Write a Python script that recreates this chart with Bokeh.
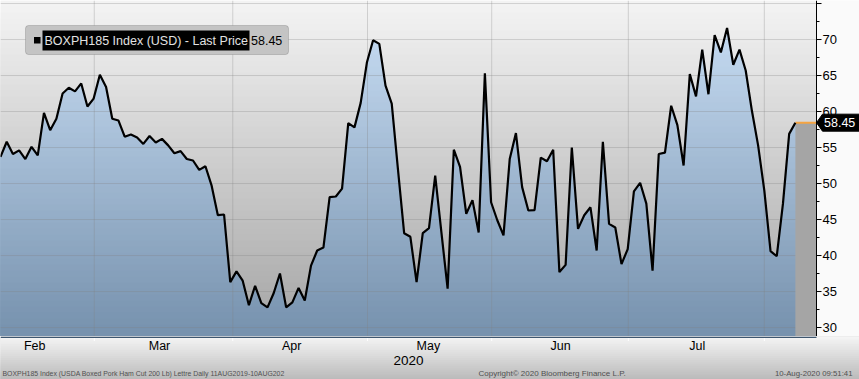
import numpy as np
from bokeh.plotting import figure
from bokeh.layouts import column
from bokeh.models import Range1d, Label, BoxAnnotation
from bokeh.core.properties import value
from bokeh.embed import file_html
from bokeh.resources import INLINE

# ---------------- data ----------------
prices = [53.7, 55.8, 54.1, 54.6, 53.4, 55.1, 53.9, 59.8, 57.4, 59.0,
          62.5, 63.3, 62.8, 63.9, 60.7, 61.8, 65.1, 63.4, 59.0, 58.75,
          56.5, 56.8, 56.4, 55.5, 56.6, 55.7, 56.2, 55.3, 54.2, 54.5,
          53.4, 53.2, 51.9, 52.4, 49.7, 45.6, 45.7, 36.3, 37.8, 36.5,
          33.1, 35.8, 33.4, 32.8, 34.8, 37.5, 32.8, 33.5, 35.5, 33.75,
          38.6, 40.7, 41.1, 48.1, 48.2, 49.3, 58.4, 57.8, 61.2, 66.8,
          69.9, 69.4, 63.6, 61.1, 52.0, 43.1, 42.6, 36.3, 43.1, 43.8,
          51.1, 43.2, 35.4, 54.7, 52.3, 45.8, 47.7, 43.2, 65.3, 47.4,
          44.9, 42.8, 53.4, 57.0, 49.5, 46.25, 46.3, 53.6, 53.1, 54.7,
          37.7, 38.7, 55.0, 43.7, 45.6, 46.7, 40.7, 55.8, 44.4, 43.9,
          38.8, 40.9, 48.9, 50.1, 47.2, 37.9, 54.1, 54.3, 60.8, 58.1,
          52.5, 65.2, 62.1, 68.6, 62.4, 70.6, 68.2, 71.6, 66.5, 68.6,
          65.7, 60.1, 55.3, 49.0, 40.6, 39.9, 47.2, 56.9, 58.45]
last_price = 58.45
last_price_text = "58.45"
months = ["Feb", "Mar", "Apr", "May", "Jun", "Jul"]
month_label_pos = [5.5, 25.6, 46.9, 68.9, 90.2, 112.2]
month_bounds = [15.1, 37.4, 59.1, 79.1, 101.1, 123.0]
year_label = "2020"
y_ticks = [30, 35, 40, 45, 50, 55, 60, 65, 70, 75]
y_tick_labels = ["30", "35", "40", "45", "50", "55", "60", "65", "70", ""]
y_minor = [32.5, 37.5, 42.5, 47.5, 52.5, 57.5, 62.5, 67.5, 72.5]
series_name = "BOXPH185 Index (USD) - Last Price"
footer_left = "BOXPH185 Index (USDA Boxed Pork Ham Cut 200 Lb) Lettre  Daily 11AUG2019-10AUG202"
footer_mid = "Copyright\u00a9 2020 Bloomberg Finance L.P."
footer_right = "10-Aug-2020 09:51:41"

# ---------------- layout constants ----------------
W, FRAME_H, FOOT_H = 859, 336, 43
PLOT_W = 816                      # width of the price area; the right 43 px hold the axis
PX_PER_IDX = 6.21
PX_PER_UNIT = 7.2
X_END = PLOT_W / PX_PER_IDX       # right edge of the price area, in index units
X_MAX = W / PX_PER_IDX
Y_TOP = 75.42
Y_BOT = Y_TOP - FRAME_H / PX_PER_UNIT
FONT = "Liberation Sans"


def px_x(px):
    return px / PX_PER_IDX


def px_y(py):
    return Y_TOP - py / PX_PER_UNIT


def lerp_color(c0, c1, t):
    r = [int(round(a + (b - a) * t)) for a, b in zip(c0, c1)]
    return "#%02x%02x%02x" % tuple(r)


def clip_top(xs, ys, cap):
    ox, oy = [xs[0]], [min(ys[0], cap)]
    for i in range(1, len(xs)):
        x0, y0, x1, y1 = xs[i - 1], ys[i - 1], xs[i], ys[i]
        if (y0 - cap) * (y1 - cap) < 0:
            t = (cap - y0) / (y1 - y0)
            ox.append(x0 + t * (x1 - x0))
            oy.append(cap)
        ox.append(x1)
        oy.append(min(y1, cap))
    return ox, oy


idx = list(range(len(prices)))
last_idx = idx[-1]

# ================= main chart =================
p = figure(width=W, height=FRAME_H, x_range=Range1d(0, X_MAX), y_range=Range1d(Y_BOT, Y_TOP),
           output_backend="svg", toolbar_location=None, min_border=0,
           x_axis_location=None, y_axis_location=None)
p.outline_line_color = None
p.xgrid.visible = False
p.ygrid.visible = False
p.background_fill_color = "#fafafa"
p.border_fill_color = "#fafafa"

# background gradient of the price area
N = 56
step = (Y_TOP - Y_BOT) / N
bg_top = (244, 244, 244)
bg_bot = (164, 164, 164)
ar_top = (204, 225, 247)
ar_bot = (118, 145, 173)
caps = [Y_TOP - k * step for k in range(N)]
bg_cols = [lerp_color(bg_top, bg_bot, (Y_TOP - (c - step / 2)) / (Y_TOP - Y_BOT)) for c in caps]
p.quad(left=0, right=X_END, bottom=Y_BOT, top=caps, fill_color=bg_cols, line_color=None)

# area gradient under the price line
for c in caps:
    t = (Y_TOP - (c - step / 2)) / (Y_TOP - Y_BOT)
    ox, oy = clip_top(idx, prices, c)
    p.varea(x=ox, y1=Y_BOT, y2=oy, fill_color=lerp_color(ar_top, ar_bot, t), fill_alpha=1)

# grid lines
p.segment(x0=0, x1=X_END, y0=y_ticks, y1=y_ticks, line_color="#808080", line_alpha=0.3, line_width=1)
p.segment(x0=month_bounds, x1=month_bounds, y0=Y_BOT, y1=Y_TOP, line_color="#808080",
          line_alpha=0.3, line_width=1)

# projection region after the last price
p.quad(left=[last_idx], right=[X_END], bottom=[Y_BOT], top=[last_price], fill_color="#a5a5a5", line_color=None)
p.line(x=[last_idx, X_END], y=[last_price, last_price], line_color="#f5a442", line_width=2)

# price line
p.line(x=idx, y=prices, line_color="black", line_width=2.2)

# right-hand price axis
p.segment(x0=[X_END], x1=[X_END], y0=[Y_BOT], y1=[Y_TOP], line_color="black", line_width=1)
p.segment(x0=X_END, x1=X_END + px_x(5), y0=y_ticks, y1=y_ticks, line_color="black", line_width=1)
p.segment(x0=X_END, x1=X_END + px_x(3), y0=y_minor, y1=y_minor, line_color="black", line_width=1)
p.text(x=X_END + px_x(6), y=y_ticks, text=y_tick_labels, text_font=value(FONT),
       text_font_size="13px", text_color="black", text_align="left", text_baseline="middle")

# last price badge
half_h = 8.5 / PX_PER_UNIT
p.patch(x=[X_END, X_END + px_x(6), X_MAX, X_MAX, X_END + px_x(6)],
        y=[last_price, last_price + half_h, last_price + half_h, last_price - half_h, last_price - half_h],
        fill_color="black", line_color="black")
p.text(x=[X_END + px_x(7.5)], y=[last_price], text=[last_price_text], text_font=value(FONT),
       text_font_size="12.5px", text_color="white", text_align="left", text_baseline="middle")

# legend-like box
p.add_layout(BoxAnnotation(left=px_x(25), right=px_x(288), top=px_y(25), bottom=px_y(54),
                           fill_color="#c4c4c4", fill_alpha=1, line_color="#6e6e6e", line_width=1,
                           border_radius=3))
p.add_layout(BoxAnnotation(left=px_x(33.5), right=px_x(40), top=px_y(36.5), bottom=px_y(43),
                           fill_color="black", fill_alpha=1, line_color=None))
p.add_layout(BoxAnnotation(left=px_x(42), right=px_x(249), top=px_y(30), bottom=px_y(50),
                           fill_color="black", fill_alpha=1, line_color=None))
p.add_layout(Label(x=px_x(44), y=px_y(40), text=series_name, text_font=FONT,
                   text_font_size="12.5px", text_color="#e2e2e2", text_baseline="middle"))
p.add_layout(Label(x=px_x(250.5), y=px_y(40), text=last_price_text, text_font=FONT,
                   text_font_size="12.5px", text_color="black", text_baseline="middle"))

# ================= bottom strip: months, year, footer =================
f = figure(width=W, height=FOOT_H, x_range=Range1d(0, X_MAX), y_range=Range1d(FRAME_H + FOOT_H, FRAME_H),
           output_backend="svg", toolbar_location=None, min_border=0,
           x_axis_location=None, y_axis_location=None)
f.outline_line_color = None
f.xgrid.visible = False
f.ygrid.visible = False
f.background_fill_color = "#d8d8d8"
f.border_fill_color = "#d8d8d8"
fb_top = (245, 245, 245)
fb_bot = (186, 186, 186)
fsteps = 22
fy = [FRAME_H + k * FOOT_H / fsteps for k in range(fsteps)]
fcols = [lerp_color(fb_top, fb_bot, (k + 0.5) / fsteps) for k in range(fsteps)]
f.quad(left=0, right=X_MAX, top=fy, bottom=FRAME_H + FOOT_H, fill_color=fcols, line_color=None)

# bottom edge of the chart and month boundary ticks
f.segment(x0=[0], x1=[X_END], y0=[336.7], y1=[336.7], line_color="#3e566f", line_width=1.6)
f.segment(x0=month_bounds, x1=month_bounds, y0=337.5, y1=340.5, line_color="#ffffff", line_width=1)
f.text(x=month_label_pos, y=345.5, text=months, text_font=value(FONT), text_font_size="12.5px",
       text_color="black", text_align="center", text_baseline="middle")
f.text(x=[px_x(408)], y=[359.5], text=[year_label], text_font=value(FONT), text_font_size="13.5px",
       text_color="black", text_align="center", text_baseline="middle")
f.text(x=[px_x(2)], y=[373], text=[footer_left], text_font=value(FONT), text_font_size="6.9px",
       text_color="#505050", text_align="left", text_baseline="middle")
f.text(x=[px_x(478)], y=[373], text=[footer_mid], text_font=value(FONT), text_font_size="8px",
       text_color="#505050", text_align="left", text_baseline="middle")
f.text(x=[px_x(852)], y=[373], text=[footer_right], text_font=value(FONT), text_font_size="7.8px",
       text_color="#505050", text_align="right", text_baseline="middle")

layout = column(p, f, spacing=0)
open("out.html", "w").write(file_html(layout, INLINE))
